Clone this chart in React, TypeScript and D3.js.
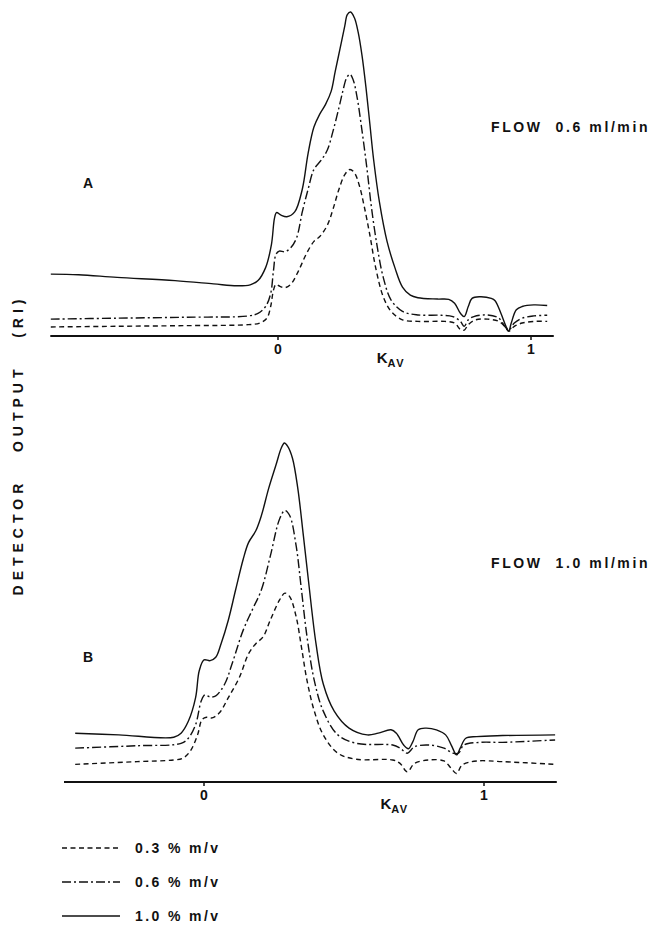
import React from "react";
import * as d3 from "d3";

// K_AV vs relative detector output (0 = baseline axis, 100 = tallest peak of the panel)
const topSolid: [number, number][] = [
  [-0.898, 19.1], [-0.788, 18.9], [-0.636, 18.1], [-0.407, 17.1], [-0.255, 16.1], [-0.163, 15.5],
  [-0.11, 15.8], [-0.079, 17.1], [-0.049, 21.1], [-0.026, 28.2], [-0.014, 36.3], [-0.006, 38.1],
  [0.012, 37.3], [0.035, 36.8], [0.066, 38.3], [0.096, 45.3], [0.119, 56.4], [0.142, 64.5],
  [0.165, 68.5], [0.188, 71.5], [0.21, 75.5], [0.226, 81.6], [0.245, 88.6], [0.264, 95.7],
  [0.274, 99.2], [0.287, 100], [0.302, 98.2], [0.317, 93.7], [0.332, 86.6], [0.348, 76.5],
  [0.363, 65.5], [0.378, 54.4], [0.401, 41.3], [0.431, 29.2], [0.462, 21.1], [0.492, 15.1],
  [0.523, 12.6], [0.553, 11.8], [0.63, 11.4], [0.675, 11.3], [0.698, 10.1], [0.721, 7.0],
  [0.736, 6.0], [0.752, 9.1], [0.767, 11.6], [0.797, 12.1], [0.843, 11.6], [0.858, 10.9],
  [0.881, 7.0], [0.901, 3.0], [0.912, 1.5], [0.922, 4.0], [0.942, 8.1], [0.965, 9.1],
  [1.011, 9.6], [1.064, 9.4],
];
const topDashDot: [number, number][] = [
  [-0.898, 5.2], [-0.636, 5.5], [-0.361, 5.8], [-0.117, 6.2], [-0.079, 7.0], [-0.049, 9.1],
  [-0.029, 13.1], [-0.018, 20.1], [-0.008, 25.2], [0.005, 26.2], [0.027, 26.0], [0.05, 27.2],
  [0.073, 30.2], [0.096, 38.3], [0.119, 45.3], [0.142, 51.4], [0.172, 54.4], [0.195, 57.4],
  [0.218, 63.4], [0.241, 70.5], [0.256, 75.5], [0.271, 79.6], [0.284, 80.8], [0.297, 79.1],
  [0.313, 73.5], [0.332, 63.4], [0.352, 51.4], [0.37, 39.3], [0.393, 27.2], [0.416, 18.1],
  [0.447, 11.1], [0.492, 7.6], [0.553, 6.5], [0.645, 6.4], [0.691, 6.0], [0.721, 4.5],
  [0.736, 3.0], [0.752, 5.0], [0.774, 6.0], [0.828, 6.5], [0.873, 5.5], [0.896, 3.0],
  [0.912, 1.8], [0.934, 4.0], [0.965, 5.5], [1.011, 6.2], [1.064, 6.4],
];
const topDashed: [number, number][] = [
  [-0.898, 2.8], [-0.636, 3.0], [-0.361, 3.2], [-0.117, 3.5], [-0.072, 4.0], [-0.044, 5.5],
  [-0.029, 9.1], [-0.018, 14.1], [-0.008, 15.9], [0.008, 15.3], [0.027, 14.9], [0.05, 15.9],
  [0.081, 20.1], [0.111, 25.2], [0.142, 29.2], [0.165, 30.7], [0.195, 34.2], [0.218, 39.3],
  [0.241, 45.3], [0.264, 49.8], [0.284, 51.4], [0.302, 50.4], [0.322, 46.3], [0.34, 40.3],
  [0.363, 31.2], [0.386, 21.1], [0.416, 12.1], [0.447, 7.6], [0.492, 5.0], [0.553, 4.5],
  [0.66, 4.5], [0.698, 4.0], [0.721, 2.0], [0.736, 1.8], [0.752, 3.5], [0.782, 5.0],
  [0.828, 5.2], [0.873, 4.5], [0.896, 3.0], [0.912, 1.5], [0.934, 3.0], [0.965, 4.0],
  [1.011, 4.5], [1.064, 4.5],
];

const botSolid: [number, number][] = [
  [-0.46, 14.4], [-0.304, 13.9], [-0.108, 13.2], [-0.082, 14.4], [-0.056, 17.9], [-0.03, 24.9],
  [-0.017, 32.8], [0.0, 36.0], [0.022, 35.8], [0.042, 36.8], [0.061, 40.8], [0.087, 47.8],
  [0.113, 56.7], [0.14, 65.7], [0.159, 70.6], [0.185, 74.1], [0.205, 78.6], [0.231, 86.6],
  [0.257, 93.5], [0.276, 98.5], [0.287, 100], [0.299, 99.0], [0.316, 95.5], [0.335, 86.6],
  [0.355, 72.6], [0.374, 58.7], [0.4, 40.8], [0.426, 28.9], [0.465, 20.9], [0.518, 15.9],
  [0.583, 13.9], [0.622, 14.4], [0.668, 15.4], [0.687, 14.4], [0.713, 10.9], [0.73, 9.8],
  [0.746, 11.9], [0.765, 15.4], [0.791, 15.9], [0.83, 15.4], [0.863, 13.9], [0.883, 10.9],
  [0.902, 8.0], [0.915, 10.0], [0.935, 12.9], [0.974, 13.4], [1.066, 13.7], [1.254, 13.9],
];
const botDashDot: [number, number][] = [
  [-0.46, 10.0], [-0.239, 10.7], [-0.082, 11.4], [-0.056, 12.9], [-0.03, 16.9], [-0.01, 23.9],
  [0.003, 25.7], [0.022, 25.1], [0.042, 25.4], [0.074, 28.9], [0.1, 34.8], [0.14, 44.8],
  [0.172, 50.7], [0.205, 56.7], [0.237, 66.7], [0.27, 77.6], [0.289, 80.1], [0.306, 78.6],
  [0.329, 69.7], [0.348, 56.7], [0.368, 42.8], [0.394, 29.9], [0.426, 20.9], [0.478, 13.9],
  [0.544, 11.4], [0.674, 10.9], [0.7, 10.0], [0.726, 8.5], [0.752, 10.4], [0.804, 10.9],
  [0.857, 10.0], [0.889, 8.5], [0.909, 8.5], [0.928, 10.9], [0.987, 11.7], [1.066, 11.7],
  [1.254, 12.4],
];
const botDashed: [number, number][] = [
  [-0.46, 5.2], [-0.239, 6.0], [-0.108, 6.5], [-0.076, 7.0], [-0.05, 9.0], [-0.023, 13.9],
  [-0.007, 18.4], [0.009, 19.1], [0.029, 18.9], [0.055, 20.4], [0.087, 24.9], [0.126, 30.8],
  [0.159, 37.8], [0.185, 40.8], [0.211, 42.8], [0.237, 47.8], [0.27, 53.7], [0.289, 55.7],
  [0.306, 54.7], [0.329, 48.8], [0.348, 39.8], [0.368, 29.9], [0.394, 20.9], [0.426, 13.9],
  [0.478, 8.5], [0.544, 6.7], [0.674, 6.5], [0.7, 5.5], [0.726, 3.0], [0.752, 5.5],
  [0.804, 6.5], [0.857, 6.2], [0.883, 4.0], [0.902, 2.5], [0.922, 5.0], [0.974, 6.2],
  [1.066, 6.0], [1.254, 5.2],
];

const xTicks = [0, 1];
const legendLabels = ["0.3 % m/v", "0.6 % m/v", "1.0 % m/v"];
const flowLabels = ["FLOW  0.6 ml/min", "FLOW  1.0 ml/min"];
const panelLetters = ["A", "B"];

const FONT = "'Liberation Sans', Arial, sans-serif";
const dashes = ["5,3.5", "9,3,2,3", null];

type Panel = {
  x: d3.ScaleLinear<number, number>;
  y: d3.ScaleLinear<number, number>;
  axisDomain: [number, number];
  series: [number, number][][];
  flow: string;
  letter: string;
  flowPos: [number, number];
  letterPos: [number, number];
  kavAt: number;
};

const panels: Panel[] = [
  {
    x: d3.scaleLinear().domain([0, 1]).range([278, 531]),
    y: d3.scaleLinear().domain([0, 100]).range([336, 12]),
    axisDomain: [-0.9, 1.09],
    series: [topDashed, topDashDot, topSolid],
    flow: flowLabels[0],
    letter: panelLetters[0],
    flowPos: [491, 132],
    letterPos: [83, 188],
    kavAt: 0.39,
  },
  {
    x: d3.scaleLinear().domain([0, 1]).range([204, 484]),
    y: d3.scaleLinear().domain([0, 100]).range([782, 443]),
    axisDomain: [-0.5, 1.26],
    series: [botDashed, botDashDot, botSolid],
    flow: flowLabels[1],
    letter: panelLetters[1],
    flowPos: [491, 568],
    letterPos: [83, 662],
    kavAt: 0.63,
  },
];

function PanelView({ p }: { p: Panel }) {
  const line = d3
    .line<[number, number]>()
    .x((d) => p.x(d[0]))
    .y((d) => p.y(d[1]))
    .curve(d3.curveCatmullRom.alpha(0.5));
  const y0 = p.y(0);
  return (
    <g>
      {p.series.map((s, i) => (
        <path
          key={i}
          d={line(s) || ""}
          fill="none"
          stroke="#111"
          strokeWidth={1.4}
          strokeDasharray={dashes[i] || undefined}
        />
      ))}
      <line
        x1={p.x(p.axisDomain[0])}
        x2={p.x(p.axisDomain[1])}
        y1={y0}
        y2={y0}
        stroke="#111"
        strokeWidth={2.2}
      />
      {xTicks.map((t) => (
        <g key={t}>
          <line x1={p.x(t)} x2={p.x(t)} y1={y0} y2={y0 + 4} stroke="#111" strokeWidth={1.5} />
          <text x={p.x(t)} y={y0 + 18} textAnchor="middle" fontSize={14} fontWeight="bold">
            {t}
          </text>
        </g>
      ))}
      <text x={p.x(p.kavAt)} y={y0 + 27} fontSize={15} fontWeight="bold">
        K
        <tspan fontSize={11} dy={4} letterSpacing={1.5}>
          AV
        </tspan>
      </text>
      <text x={p.flowPos[0]} y={p.flowPos[1]} fontSize={14} fontWeight="bold" letterSpacing={2.6} xmlSpace="preserve">
        {p.flow}
      </text>
      <text x={p.letterPos[0]} y={p.letterPos[1]} fontSize={14} fontWeight="bold">
        {p.letter}
      </text>
    </g>
  );
}

export default function App() {
  return (
    <svg
      width={669}
      height={926}
      style={{ display: "block", position: "absolute", left: 0, top: 0 }}
      fontFamily={FONT}
      fill="#111"
    >
      <rect width={669} height={926} fill="#fff" />
      {panels.map((p, i) => (
        <PanelView key={i} p={p} />
      ))}
      <text
        transform="translate(23,445) rotate(-90)"
        textAnchor="middle"
        fontSize={14}
        fontWeight="bold"
        letterSpacing={5}
        xmlSpace="preserve"
      >
        DETECTOR   OUTPUT   (RI)
      </text>
      {legendLabels.map((lab, i) => (
        <g key={lab} transform={`translate(0,${848 + i * 34})`}>
          <line
            x1={62}
            x2={120}
            y1={0}
            y2={0}
            stroke="#111"
            strokeWidth={1.4}
            strokeDasharray={dashes[i] || undefined}
          />
          <text x={135} y={5} fontSize={14} fontWeight="bold" letterSpacing={2.4} xmlSpace="preserve">
            {lab}
          </text>
        </g>
      ))}
    </svg>
  );
}
